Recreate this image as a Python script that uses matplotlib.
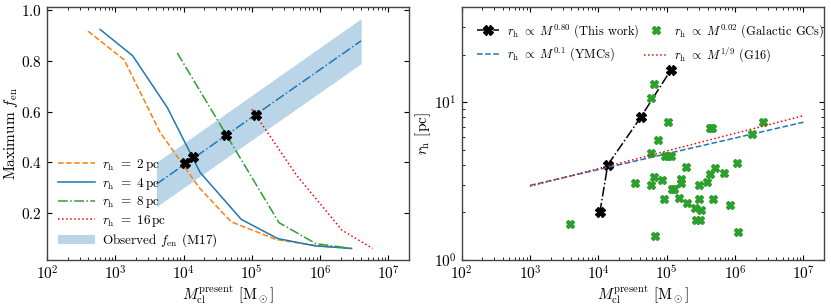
import numpy as np
import matplotlib
matplotlib.use("Agg")
import matplotlib.pyplot as plt

plt.rcParams['font.family'] = 'serif'
plt.rcParams['font.serif'] = ['cmr10', 'DejaVu Serif']
plt.rcParams['mathtext.fontset'] = 'cm'
plt.rcParams['axes.formatter.use_mathtext'] = True

# left panel: maximum f_en vs present-day cluster mass
m_2pc = [400, 1350, 4500, 1.7e4, 5e4, 2.3e5, 8.5e5, 2.9e6]
f_2pc = [0.918, 0.805, 0.52, 0.30, 0.165, 0.095, 0.072, 0.06]
m_4pc = [600, 1800, 5800, 1.75e4, 7e4, 2.4e5, 8.5e5, 2.9e6]
f_4pc = [0.925, 0.821, 0.616, 0.36, 0.175, 0.099, 0.070, 0.06]
m_8pc = [8.1e3, 2.5e5, 8.7e5, 2.9e6]
f_8pc = [0.832, 0.162, 0.079, 0.06]
m_16pc = [1e5, 4.5e5, 2.1e6, 5.9e6]
f_16pc = [0.61, 0.35, 0.132, 0.06]

# observed band (M17)
m_obs = [4e3, 4e6]
f_obs = [0.314, 0.88]
f_obs_lo = [0.225, 0.79]
f_obs_hi = [0.40, 0.968]

# crossing points (this work)
m_cross = [1.05e4, 1.37e4, 4.15e4, 1.15e5]
f_cross = [0.397, 0.42, 0.51, 0.589]
rh_cross = [2, 4, 8, 16]

# right panel: scaling relations
m_rel = [1e3, 1e7]
rh_ymc = [2.97, 7.46]
rh_g16 = [2.93, 8.2]

# Galactic GCs
m_gc = [3.8e3, 3.42e4, 5.9e4, 6.6e4, 5.9e4, 5.9e4, 6.4e4, 6.7e4, 7.5e4, 8.6e4,
        9.1e4, 9.4e4, 1.05e5, 1.05e5, 1.16e5, 1.21e5, 1.28e5, 1.52e5, 1.61e5, 1.64e5,
        1.9e5, 1.95e5, 2.61e5, 2.67e5, 2.92e5, 2.92e5, 3.09e5, 3.2e5, 3.83e5, 4.29e5,
        4.33e5, 4.6e5, 4.7e5, 5.08e5, 6.97e5, 8.4e5, 1.07e6, 1.12e6, 1.76e6, 2.55e6]
rh_gc = [1.68, 3.09, 2.98, 3.37, 4.73, 10.6, 13.1, 1.41, 5.75, 3.21,
         2.45, 4.55, 7.47, 4.55, 4.55, 2.83, 2.80, 2.48, 3.24, 3.06,
         3.88, 2.31, 2.14, 1.79, 2.97, 2.45, 1.79, 2.07, 3.12, 6.81,
         3.52, 6.81, 2.45, 3.84, 3.54, 2.23, 4.13, 1.50, 6.30, 7.47]

fig = plt.figure(figsize=(8.31, 3.08), dpi=100)
ax1 = fig.add_axes([0.0566, 0.156, 0.4354, 0.821])
ax2 = fig.add_axes([0.5556, 0.156, 0.436, 0.821])

ax1.plot(m_2pc, f_2pc, color='C1', ls='--', lw=1.1, label=r'$r_{\rm h}\ =\ 2\,{\rm pc}$')
ax1.plot(m_4pc, f_4pc, color='C0', ls='-', lw=1.1, label=r'$r_{\rm h}\ =\ 4\,{\rm pc}$')
ax1.plot(m_8pc, f_8pc, color='C2', ls='-.', lw=1.1, label=r'$r_{\rm h}\ =\ 8\,{\rm pc}$')
ax1.plot(m_16pc, f_16pc, color='r', ls=':', lw=1.1, label=r'$r_{\rm h}\ =\ 16\,{\rm pc}$')
ax1.fill_between(m_obs, f_obs_lo, f_obs_hi, color='C0', alpha=0.3, lw=0,
                 label=r'Observed $f_{\rm en}$ (M17)')
ax1.plot(m_obs, f_obs, color='C0', ls='-.', lw=1.1)
ax1.plot(m_cross, f_cross, ls='none', marker='X', color='k', ms=6.5)
ax1.set_xscale('log')
ax1.set_xlim(1e2, 2e7)
ax1.set_ylabel(r'Maximum $f_{\rm en}$', fontsize=11, labelpad=1)
ax1.set_xlabel(r'$M_{\rm cl}^{\rm present}\ [{\rm M}_\odot]$', fontsize=11, labelpad=0)
ax1.set_yticks([0.2, 0.4, 0.6, 0.8, 1.0])
ax1.legend(loc='lower left', frameon=False, fontsize=9.5, handlelength=2.8,
           handletextpad=0.6, borderaxespad=0.4, labelspacing=0.2)

ax2.plot(m_cross, rh_cross, color='k', ls='-.', marker='X', ms=6.5, lw=1.1,
         label=r'$r_{\rm h}\ \propto\ M^{0.80}$ (This work)')
ax2.plot(m_rel, rh_ymc, color='C0', ls='--', lw=1.1,
         label=r'$r_{\rm h}\ \propto\ M^{0.1}$ (YMCs)')
ax2.plot(m_gc, rh_gc, ls='none', marker='X', color='C2', ms=6,
         label=r'$r_{\rm h}\ \propto\ M^{0.02}$ (Galactic GCs)')
ax2.plot(m_rel, rh_g16, color='r', ls=':', lw=1.1,
         label=r'$r_{\rm h}\ \propto\ M^{1/9}$ (G16)')
ax2.set_xscale('log')
ax2.set_yscale('log')
ax2.set_xlim(1e2, 2e7)
ax2.set_ylim(1, 40)
ax2.set_ylabel(r'$r_{\rm h}$ [pc]', fontsize=11, labelpad=1)
ax2.set_xlabel(r'$M_{\rm cl}^{\rm present}\ [{\rm M}_\odot]$', fontsize=11, labelpad=0)
ax2.legend(loc='upper left', ncol=2, frameon=False, fontsize=9, handlelength=1.8,
           handletextpad=0.6, columnspacing=0.4, borderaxespad=0.9, labelspacing=0.45,
           borderpad=0.3)

for ax in (ax1, ax2):
    ax.tick_params(which='both', direction='in', top=True, right=True, labelsize=11)
    ax.tick_params(which='major', length=3.5)
    ax.tick_params(which='minor', length=2)
    for sp in ax.spines.values():
        sp.set_color('#444444')
        sp.set_linewidth(1.0)

fig.savefig('out.png', dpi=100)
